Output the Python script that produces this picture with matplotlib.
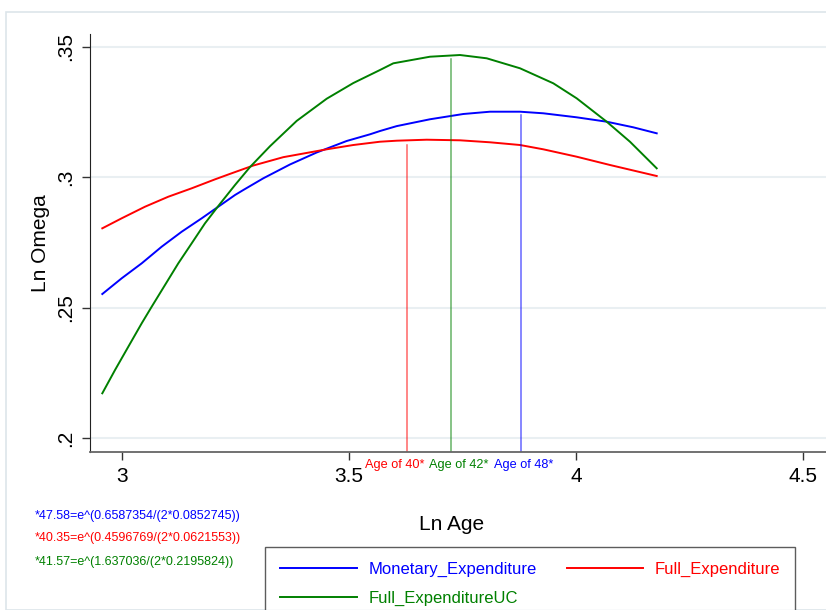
import matplotlib
matplotlib.use("Agg")
import matplotlib.pyplot as plt
from matplotlib.patches import Rectangle

plt.rcParams['font.family'] = ['Liberation Sans', 'DejaVu Sans']

# fitted curves (x = ln age, y = ln omega)
mon_x = [2.9566, 2.9993, 3.0434, 3.0874, 3.1315, 3.1756, 3.2121, 3.2489,
         3.2672, 3.3112, 3.3700, 3.4289, 3.4949, 3.5463, 3.5683, 3.6051,
         3.6784, 3.7518, 3.8106, 3.8767, 3.9280, 4.0015, 4.0676, 4.1262, 4.1778]
mon_y = [0.25517, 0.26119, 0.26693, 0.27330, 0.27904, 0.28418, 0.28862, 0.29310,
         0.29502, 0.29950, 0.30480, 0.30940, 0.31380, 0.31636, 0.31762, 0.31950,
         0.32212, 0.32414, 0.32502, 0.32502, 0.32441, 0.32287, 0.32119, 0.31904,
         0.31674]

full_x = [2.9566, 2.9993, 3.0507, 3.1020, 3.1535, 3.2048, 3.2379, 3.2892,
          3.3553, 3.4509, 3.5095, 3.5683, 3.6051, 3.6711, 3.7445, 3.8106,
          3.8767, 3.9280, 4.0015, 4.0749, 4.1778]
full_y = [0.28034, 0.28418, 0.28862, 0.29245, 0.29567, 0.29910, 0.30120, 0.30440,
          0.30760, 0.31061, 0.31226, 0.31352, 0.31391, 0.31429, 0.31406, 0.31330,
          0.31226, 0.31061, 0.30778, 0.30460, 0.30038]

uc_x = [2.9566, 2.9846, 3.0139, 3.0434, 3.0654, 3.0947, 3.1240, 3.1535,
        3.1828, 3.2121, 3.2489, 3.2819, 3.3260, 3.3848, 3.4509, 3.5095,
        3.5683, 3.5976, 3.6784, 3.7445, 3.8033, 3.8767, 3.9500, 4.0015,
        4.0676, 4.1189, 4.1778]
uc_y = [0.21713, 0.22605, 0.23498, 0.24395, 0.25031, 0.25862, 0.26693, 0.27460,
        0.28226, 0.28889, 0.29693, 0.30380, 0.31180, 0.32150, 0.33000, 0.33600,
        0.34100, 0.34356, 0.34609, 0.34674, 0.34548, 0.34165, 0.33590, 0.33015,
        0.32119, 0.31352, 0.30333]

# turning points (vertical markers)
peak_x = [3.6271, 3.7240, 3.8789]
peak_top = [0.31226, 0.34521, 0.32375]
peak_lab = ['Age of 40*', 'Age of 42*', 'Age of 48*']
peak_lab_x = [3.601, 3.742, 3.885]

notes = ['*47.58=e^(0.6587354/(2*0.0852745))',
         '*40.35=e^(0.4596769/(2*0.0621553))',
         '*41.57=e^(1.637036/(2*0.2195824))']

blue, red, green = '#0000ff', '#ff0000', '#008000'

fig = plt.figure(figsize=(8.26, 6.10), dpi=100)
fig.patches.append(Rectangle((6/826, 0), 1, 1 - 12/610, transform=fig.transFigure,
                             fill=False, ec='#dde5ea', lw=1.2))
ax = fig.add_axes([90/826, 1 - 452/610, 1 - 90/826, (452 - 34)/610])

l_mon, = ax.plot(mon_x, mon_y, color=blue, lw=1.4, label='Monetary_Expenditure')
l_full, = ax.plot(full_x, full_y, color=red, lw=1.4, label='Full_Expenditure')
l_uc, = ax.plot(uc_x, uc_y, color=green, lw=1.4, label='Full_ExpenditureUC')

ymin = 0.19464
for xv, top, c in zip(peak_x, peak_top, [red, green, blue]):
    ax.plot([xv, xv], [ymin, top], color=c, lw=1.1, alpha=0.6)
for xv, lab, c in zip(peak_lab_x, peak_lab, [red, green, blue]):
    ax.text(xv, 0.1897, lab, color=c, fontsize=9.2, ha='center', va='center',
            clip_on=False)

ax.set_xlim(2.9295, 4.5507)
ax.set_ylim(ymin, 0.35479)
ax.set_xticks([3, 3.5, 4, 4.5])
ax.set_xticklabels(['3', '3.5', '4', '4.5'])
ax.set_yticks([0.2, 0.25, 0.3, 0.35])
ax.set_yticklabels(['.2', '.25', '.3', '.35'], rotation=90, va='center')
ax.tick_params(labelsize=15, length=6, width=1, color='#333333', pad=5)
ax.grid(axis='y', color='#e9eff2', lw=1.5)
ax.set_axisbelow(True)
for s in ['top', 'right']:
    ax.spines[s].set_visible(False)
ax.spines['left'].set_color('#222222')
ax.spines['bottom'].set_color('#666666')
ax.spines['bottom'].set_linewidth(1.3)

ax.set_ylabel('Ln Omega', fontsize=15, labelpad=4)
fig.text(452/826, 1 - 524/610, 'Ln Age', fontsize=15, ha='center', va='center')

for t, c, yp in zip(notes, [blue, red, green], [516, 538, 562]):
    fig.text(35/826, 1 - yp/610, t, color=c, fontsize=9, ha='left', va='center')

# legend filled column by column: put the UC line second so it lands on row 2
leg = fig.legend([l_mon, l_uc, l_full],
                 ['Monetary_Expenditure', 'Full_ExpenditureUC', 'Full_Expenditure'],
                 loc='upper left', bbox_to_anchor=(265/826, 1 - 547/610),
                 borderaxespad=0, ncol=2, fontsize=12, labelcolor='linecolor',
                 frameon=True, fancybox=False, edgecolor='#333333',
                 handlelength=4.6, handletextpad=0.7, columnspacing=1.8,
                 borderpad=0.9, labelspacing=0.85)
leg.get_frame().set_linewidth(1.0)

fig.savefig('out.png', dpi=100)
